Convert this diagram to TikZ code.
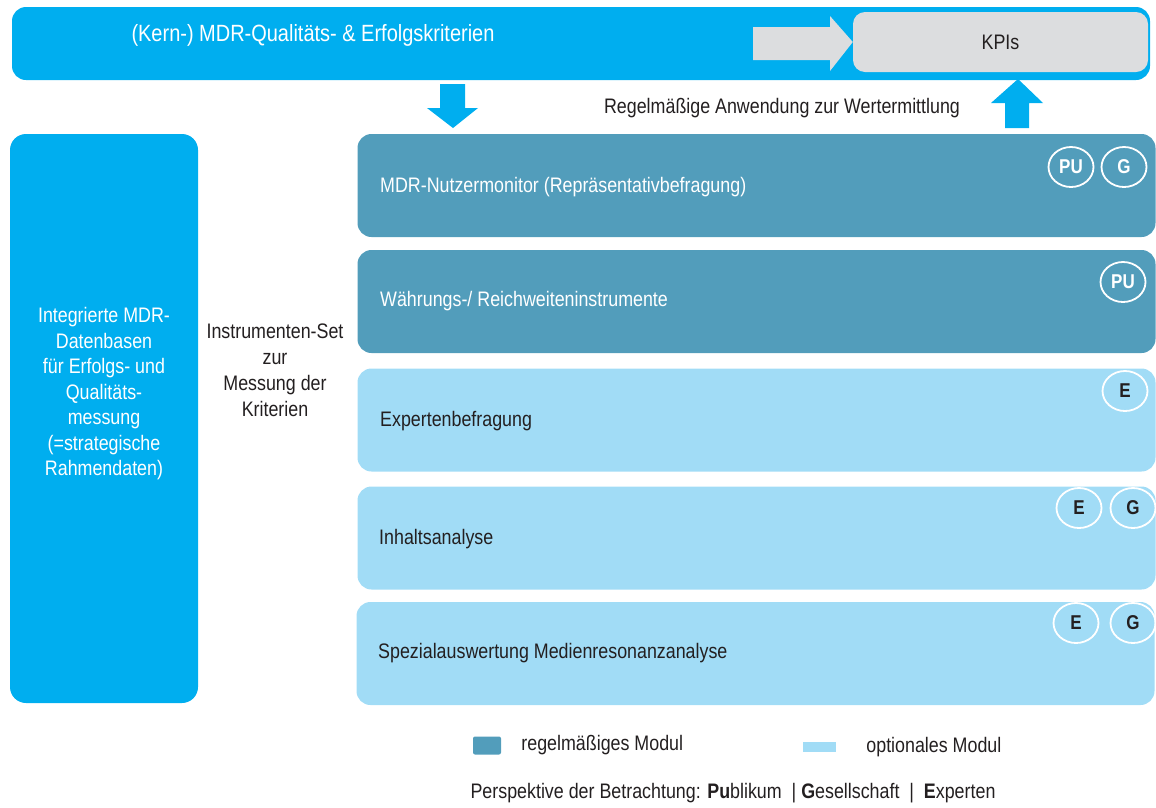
\documentclass[tikz,border=0pt]{standalone}
\usepackage{fontspec}
\setmainfont[FakeStretch=0.85]{Liberation Sans}
\usetikzlibrary{positioning}
\usetikzlibrary{shapes.geometric}
\definecolor{MdrCyan}{HTML}{00AEEF}
\definecolor{ModDark}{HTML}{529DBB}
\definecolor{ModLight}{HTML}{A1DCF6}
\definecolor{KpiGray}{HTML}{DCDDDF}
\definecolor{TextDark}{HTML}{231F20}
\tikzset{
  modbox/.style={rounded corners=14pt, minimum width=798pt,
    minimum height=103pt, inner sep=0pt},
  modtext/.style={anchor=west, inner sep=0pt},
  persp/.style={draw=white, line width=1.8pt, ellipse, inner sep=0pt,
    minimum width=45pt, minimum height=40pt,
    font=\bfseries\fontsize{20}{20}\selectfont},
}

\begin{document}
\begin{tikzpicture}[x=1pt, y=-1pt,
    every node/.style={font=\fontsize{21}{25.5}\selectfont, text=TextDark}]
  \useasboundingbox (0,0) rectangle (1156,807);

  % kriterien bar and KPIs
  \node[fill=MdrCyan, rounded corners=14pt, minimum width=1138pt,
    minimum height=73pt, inner sep=0pt] (kriterien) at (581,43.5) {};
  \node[text=white, font=\fontsize{23.5}{25}\selectfont] (kriterientext) at (313,35)
    {(Kern-) MDR-Qualitäts- \& Erfolgskriterien};
  \node[fill=KpiGray, rounded corners=12pt, minimum width=295pt,
    minimum height=60pt, inner sep=0pt] (kpi) at (1000.5,42) {KPIs};
  \fill[KpiGray] (753,27) -- (830,27) -- (830,16) -- (kpi.west)
    -- (830,71) -- (830,60) -- (753,60) -- cycle;

  % block arrows
  \fill[MdrCyan] (440,84) -- (465,84) -- (465,108) -- (478,108)
    -- (453,128) -- (427,108) -- (440,108) -- cycle;
  \fill[MdrCyan] (1005,128) -- (1029,128) -- (1029,103) -- (1043,103)
    -- (1018,79) -- (991,103) -- (1005,103) -- cycle;
  \node (anwendung) at (782,108) {Regelmäßige Anwendung zur Wertermittlung};

  % datenbasen
  \node[fill=MdrCyan, rounded corners=16pt, minimum width=188pt,
    minimum height=569pt, inner sep=0pt] (datenbasen) at (104,418.5) {};
  \node[text=white, align=center] (datentext) at (104,394)
    {Integrierte MDR-\\Datenbasen\\für Erfolgs- und\\Qualitäts-\\messung\\(=strategische\\Rahmendaten)};
  \node[align=center, font=\fontsize{21}{26}\selectfont] (instrumente) at (275,370)
    {Instrumenten-Set\\zur\\Messung der\\Kriterien};

  % module
  \node[modbox, fill=ModDark] (m1) at (756.5,185.5) {};
  \node[modbox, fill=ModDark] (m2) at (756.5,301.5) {};
  \node[modbox, fill=ModLight] (m3) at (756.5,420) {};
  \node[modbox, fill=ModLight] (m4) at (756.5,538) {};
  \node[modbox, fill=ModLight] (m5) at (755.5,653.5) {};
  \node[modtext, text=white] (t1) at (380,187) {MDR-Nutzermonitor (Repräsentativbefragung)};
  \node[modtext, text=white] (t2) at (380,301) {Währungs-/ Reichweiteninstrumente};
  \node[modtext] (t3) at (380,421) {Expertenbefragung};
  \node[modtext] (t4) at (379,539) {Inhaltsanalyse};
  \node[modtext] (t5) at (378,653) {Spezialauswertung Medienresonanzanalyse};

  % perspektiven
  \node[persp, text=white] (p1pu) at (1071,167) {PU};
  \node[persp, text=white] (p1g) at (1124,167) {G};
  \node[persp, text=white] (p2pu) at (1123,282) {PU};
  \node[persp] (p3e) at (1125,391) {E};
  \node[persp] (p4e) at (1079,508) {E};
  \node[persp] (p4g) at (1133,508) {G};
  \node[persp] (p5e) at (1076,623) {E};
  \node[persp] (p5g) at (1133,623) {G};

  % legende
  \node[fill=ModDark, rounded corners=2pt, minimum width=28pt,
    minimum height=18pt, inner sep=0pt] (legdark) at (487,745.5) {};
  \node[modtext, right=20pt of legdark] (legdarktext) {regelmäßiges Modul};
  \node[fill=ModLight, minimum width=33pt, minimum height=10pt,
    inner sep=0pt] (leglight) at (819.5,747) {};
  \node[modtext, right=30pt of leglight] (leglighttext) {optionales Modul};
  \node (perspektive) at (733,793)
    {Perspektive der Betrachtung: \textbf{Pu}blikum\ \ | \textbf{G}esellschaft\ \ |\ \ \textbf{E}xperten};
\end{tikzpicture}
\end{document}
